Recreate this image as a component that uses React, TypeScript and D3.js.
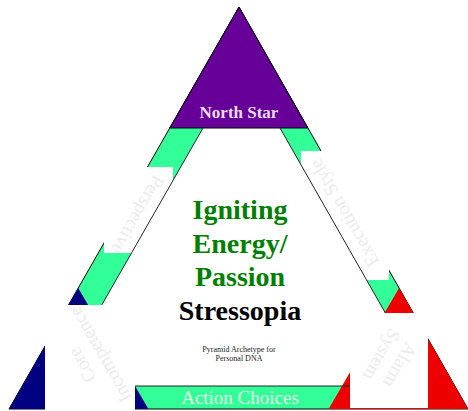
import * as React from "react";
import * as d3 from "d3";

type Pt = [number, number];

// ---- content ----
const apexLabel = "North Star";
const baseLabel = "Action Choices";
const titleGreen = ["Igniting", "Energy/", "Passion"];
const titleBlack = ["Stressopia"];
const subtitle = ["Pyramid Archetype for", "Personal DNA"];
const sideLabels = ["Perspective", "Execution Style", "Core Incompetence", "Alarm System"];
const sideLines = [["Perspective"], ["Execution Style"], ["Core", "Incompetence"], ["Alarm", "System"]];

// ---- layout ----
const W = 468;
const H = 411;
const A: Pt = [239, 7];
const B: Pt = [9, 409];
const C: Pt = [468, 409];
const cornerFrac = 121 / 402;

const colors = {
  band: "#33ff99",
  apex: "#660099",
  left: "#000080",
  right: "#ee0000",
  title: "#008000",
  faint: "#ebebeb",
};

const lerp = (p: Pt, q: Pt, k: number): Pt => d3.interpolateArray(p, q)(k) as Pt;

const closed = d3.line<Pt>().curve(d3.curveLinearClosed);
const open = d3.line<Pt>();

// inner (white) triangle edges
const innerTop = 128;
const innerBottom = 386;
const slopeL = (A[0] - B[0]) / (B[1] - A[1]);
const slopeR = (C[0] - A[0]) / (C[1] - A[1]);
const innerL = (y: number) => 203 - slopeL * (y - innerTop);
const innerR = (y: number) => 280 + slopeR * (y - innerTop);
const yInnerApex = innerTop - (280 - 203) / (slopeL + slopeR);
const inner: Pt[] = [
  [innerL(yInnerApex), yInnerApex],
  [innerL(innerBottom), innerBottom],
  [innerR(innerBottom), innerBottom],
];

const side = lerp(A, B, cornerFrac);
const sideLen = Math.hypot(side[0] - A[0], side[1] - A[1]);
const apexTri: Pt[] = [A, lerp(A, B, cornerFrac), lerp(A, C, cornerFrac)];
const leftTri: Pt[] = [B, lerp(B, A, cornerFrac), [B[0] + sideLen, B[1]]];
const rightTri: Pt[] = [C, lerp(C, A, cornerFrac), [C[0] - sideLen, C[1]]];

const sideMasks = [
  { x: 104, y: 167, w: 69, h: 86 },
  { x: 301, y: 151, w: 88, h: 129 },
];
const cornerMasks = [
  { x: 45, y: 305, w: 90, h: 106 },
  { x: 350, y: 313, w: 78, h: 95 },
];
const sidePlace = [
  { cx: 138, cy: 215, rot: 120 },
  { cx: 344, cy: 213, rot: -120 },
  { cx: 91, cy: 360, rot: -120 },
  { cx: 391, cy: 360, rot: 120 },
];

export default function App() {
  const titleLines = [...titleGreen, ...titleBlack];
  const titleY = d3.scaleLinear().domain([0, titleLines.length - 1]).range([219, 320]);
  const subY = d3.scaleLinear().domain([0, 1]).range([352, 361]);

  return (
    <svg
      width={W}
      height={H}
      style={{ position: "absolute", left: 0, top: 0, background: "#fff" }}
      fontFamily="'Liberation Serif', 'Times New Roman', serif"
    >
      <path d={closed([A, B, C]) || ""} fill={colors.band} stroke="#000" strokeWidth={1} />
      <path d={closed(inner) || ""} fill="#fff" />
      <path d={closed(apexTri) || ""} fill={colors.apex} stroke="#000" strokeWidth={1} />
      <path d={closed(leftTri) || ""} fill={colors.left} />
      <path d={closed(rightTri) || ""} fill={colors.right} />

      {sideMasks.map((m, i) => (
        <rect key={i} x={m.x} y={m.y} width={m.w} height={m.h} fill="#fff" />
      ))}

      <path
        d={open([[innerL(innerTop), innerTop], inner[1], inner[2], [innerR(innerTop), innerTop]]) || ""}
        fill="none"
        stroke="#222"
        strokeWidth={1}
      />

      {cornerMasks.map((m, i) => (
        <rect key={i} x={m.x} y={m.y} width={m.w} height={m.h} fill="#fff" />
      ))}

      <text x={239} y={118} textAnchor="middle" fontSize={17} fontWeight="bold" fill="#e8ddf0">
        {apexLabel}
      </text>

      {titleLines.map((t, i) => (
        <text
          key={t}
          x={240}
          y={titleY(i)}
          textAnchor="middle"
          fontSize={28}
          fontWeight="bold"
          fill={i < titleGreen.length ? colors.title : "#000"}
        >
          {t}
        </text>
      ))}

      {subtitle.map((t, i) => (
        <text key={t} x={239} y={subY(i)} textAnchor="middle" fontSize={8} fill="#222">
          {t}
        </text>
      ))}

      <text x={240} y={404} textAnchor="middle" fontSize={19} fill="#e2f6ea">
        {baseLabel}
      </text>

      {sideLabels.map((name, i) => {
        const p = sidePlace[i];
        const lines = sideLines[i];
        return (
          <g key={name} transform={`translate(${p.cx},${p.cy}) rotate(${p.rot})`}>
            {lines.map((l, j) => (
              <text
                key={l}
                x={0}
                y={(j - (lines.length - 1) / 2) * 21}
                textAnchor="middle"
                dominantBaseline="central"
                fontSize={19}
                fill={colors.faint}
              >
                {l}
              </text>
            ))}
          </g>
        );
      })}
    </svg>
  );
}
